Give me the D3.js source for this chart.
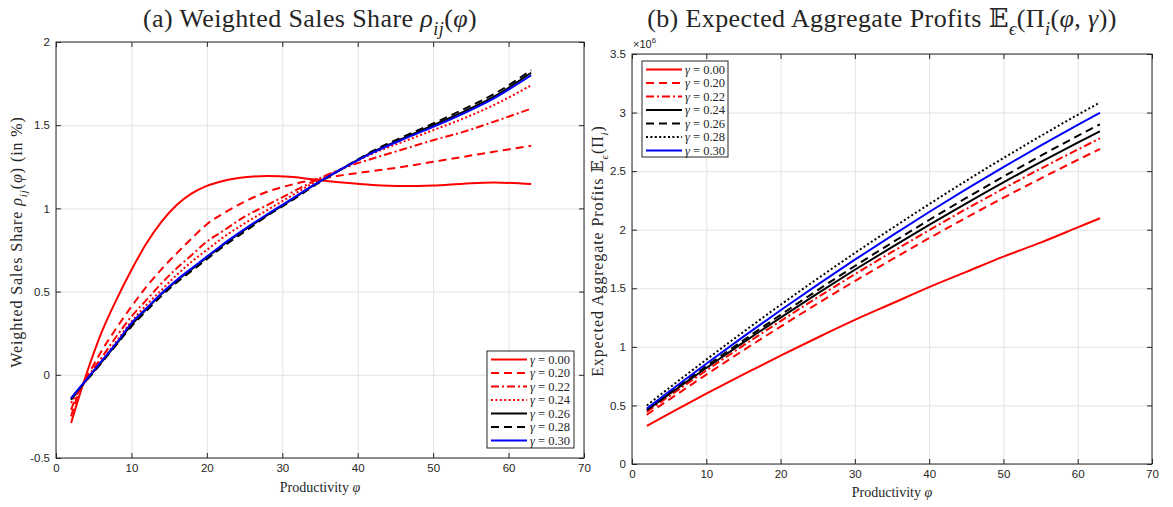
<!DOCTYPE html>
<html>
<head>
<meta charset="utf-8">
<script src="https://cdn.jsdelivr.net/npm/d3@7"></script>
<style>
  body { margin: 0; background: #fff; }
  svg text { fill: #262626; }
</style>
</head>
<body>
<div id="chart"></div>
<script>
// panel (a): weighted sales share (in %) against productivity
const phiA = [2, 3, 4, 5, 6, 8, 10, 12, 14, 16, 18, 20, 22, 25, 28, 31, 34, 38, 42, 46, 50, 54, 58, 63];
const shareG000 = [-0.29, -0.14, 0.0, 0.13, 0.25, 0.45, 0.63, 0.79, 0.92, 1.02, 1.09, 1.135, 1.163, 1.187, 1.195, 1.19, 1.175, 1.155, 1.14, 1.134, 1.137, 1.148, 1.156, 1.146];
const shareG020 = [-0.25, -0.11, -0.02, 0.06, 0.14, 0.28, 0.41, 0.53, 0.635, 0.73, 0.82, 0.905, 0.965, 1.04, 1.10, 1.14, 1.17, 1.20, 1.225, 1.25, 1.28, 1.31, 1.34, 1.376];
const shareG022 = [-0.21, -0.10, -0.03, 0.04, 0.10, 0.23, 0.35, 0.45, 0.55, 0.64, 0.72, 0.80, 0.86, 0.95, 1.02, 1.09, 1.16, 1.24, 1.30, 1.355, 1.41, 1.46, 1.52, 1.60];
const shareG024 = [-0.17, -0.09, -0.035, 0.02, 0.08, 0.20, 0.32, 0.42, 0.51, 0.60, 0.68, 0.75, 0.82, 0.91, 0.99, 1.07, 1.15, 1.24, 1.33, 1.40, 1.47, 1.54, 1.62, 1.74];
const shareG026 = [-0.145, -0.088, -0.033, 0.02, 0.075, 0.185, 0.30, 0.395, 0.485, 0.565, 0.635, 0.705, 0.775, 0.87, 0.96, 1.045, 1.135, 1.24, 1.34, 1.42, 1.50, 1.58, 1.67, 1.815];
const shareG028 = [-0.15, -0.09, -0.035, 0.015, 0.07, 0.18, 0.29, 0.385, 0.475, 0.555, 0.625, 0.695, 0.765, 0.86, 0.955, 1.04, 1.13, 1.24, 1.345, 1.43, 1.51, 1.595, 1.685, 1.83];
const shareG030 = [-0.14, -0.085, -0.03, 0.025, 0.08, 0.19, 0.31, 0.40, 0.49, 0.57, 0.64, 0.71, 0.78, 0.875, 0.965, 1.05, 1.135, 1.24, 1.335, 1.415, 1.49, 1.57, 1.66, 1.80];

// panel (b): expected aggregate profits (x 10^6)
const phiB = [2, 5, 10, 15, 20, 25, 30, 35, 40, 45, 50, 55, 60, 63];
const profitG000 = [0.325, 0.43, 0.60, 0.765, 0.925, 1.08, 1.23, 1.37, 1.51, 1.64, 1.77, 1.89, 2.02, 2.098];
const profitG020 = [0.420, 0.550, 0.763, 0.971, 1.173, 1.370, 1.562, 1.747, 1.928, 2.103, 2.273, 2.437, 2.596, 2.689];
const profitG022 = [0.445, 0.579, 0.798, 1.012, 1.220, 1.423, 1.620, 1.810, 1.996, 2.177, 2.351, 2.521, 2.684, 2.780];
const profitG024 = [0.460, 0.597, 0.820, 1.038, 1.250, 1.457, 1.658, 1.852, 2.041, 2.225, 2.404, 2.576, 2.743, 2.840];
const profitG026 = [0.465, 0.605, 0.834, 1.056, 1.273, 1.485, 1.690, 1.889, 2.083, 2.271, 2.453, 2.630, 2.801, 2.900];
const profitG028 = [0.500, 0.649, 0.891, 1.128, 1.359, 1.583, 1.801, 2.012, 2.218, 2.418, 2.612, 2.799, 2.981, 3.086];
const profitG030 = [0.474, 0.619, 0.856, 1.087, 1.312, 1.531, 1.744, 1.950, 2.151, 2.346, 2.535, 2.718, 2.895, 2.998];

const gammaLabels = ["0.00", "0.20", "0.22", "0.24", "0.26", "0.28", "0.30"];
const xTicks = [0, 10, 20, 30, 40, 50, 60, 70];
const yTicksA = [-0.5, 0, 0.5, 1, 1.5, 2];
const yTicksB = [0, 0.5, 1, 1.5, 2, 2.5, 3, 3.5];

const SERIF = "'Liberation Serif', 'DejaVu Serif', serif";
const SANS = "'Liberation Sans', Arial, sans-serif";
const DASH = { solid: null, dash: "8,5", dashdot: "8,3,2,3", dot: "2,2.4" };

const svg = d3.select("#chart")
  .append("svg")
  .attr("width", 1173)
  .attr("height", 507);

// text with italic / subscript / superscript pieces
function rich(text, parts, size) {
  let shift = 0;
  parts.forEach(p => {
    const t = text.append("tspan").text(p.t);
    let target = 0;
    if (p.sub) target = size * 0.3;
    if (p.sup) target = -size * 0.45;
    if (target !== shift) { t.attr("dy", target - shift); shift = target; }
    if (p.i) t.style("font-style", "italic");
    if (p.sub || p.sup) t.style("font-size", (size * 0.7) + "px");
  });
  return text;
}

function drawPanel(cfg) {
  const x = d3.scaleLinear().domain([0, 70]).range(cfg.xr);
  const y = d3.scaleLinear().domain(cfg.yd).range(cfg.yr);
  const g = svg.append("g");
  const w = cfg.xr[1] - cfg.xr[0];
  const h = cfg.yr[0] - cfg.yr[1];

  // grid
  g.append("g")
    .attr("transform", `translate(0,${cfg.yr[0]})`)
    .call(d3.axisBottom(x).tickValues(xTicks).tickSize(-h).tickFormat(""))
    .call(a => a.select(".domain").remove())
    .selectAll("line").attr("stroke", "#e3e3e3");
  g.append("g")
    .attr("transform", `translate(${cfg.xr[0]},0)`)
    .call(d3.axisLeft(y).tickValues(cfg.yTicks).tickSize(-w).tickFormat(""))
    .call(a => a.select(".domain").remove())
    .selectAll("line").attr("stroke", "#e3e3e3");

  // series
  const line = d3.line()
    .x(d => x(d[0]))
    .y(d => y(d[1]))
    .curve(d3.curveMonotoneX);

  cfg.series.forEach(s => {
    g.append("path")
      .datum(cfg.phi.map((p, i) => [p, s.values[i]]))
      .attr("d", line)
      .attr("fill", "none")
      .attr("stroke", s.color)
      .attr("stroke-width", 2)
      .attr("stroke-dasharray", DASH[s.dash]);
  });

  // box + ticks pointing inward
  g.append("rect")
    .attr("x", cfg.xr[0]).attr("y", cfg.yr[1])
    .attr("width", w).attr("height", h)
    .attr("fill", "none").attr("stroke", "#262626");

  const fmt = d => String(d);
  const axes = [
    [d3.axisBottom(x).tickValues(xTicks).tickFormat(fmt), `translate(0,${cfg.yr[0]})`],
    [d3.axisTop(x).tickValues(xTicks).tickFormat(""), `translate(0,${cfg.yr[1]})`],
    [d3.axisLeft(y).tickValues(cfg.yTicks).tickFormat(fmt), `translate(${cfg.xr[0]},0)`],
    [d3.axisRight(y).tickValues(cfg.yTicks).tickFormat(""), `translate(${cfg.xr[1]},0)`]
  ];
  axes.forEach(([ax, tr]) => {
    g.append("g")
      .attr("transform", tr)
      .call(ax.tickSizeInner(-5).tickSizeOuter(0).tickPadding(6))
      .call(a => a.select(".domain").remove())
      .call(a => a.selectAll("line").attr("stroke", "#262626"))
      .call(a => a.selectAll("text")
        .attr("fill", "#262626")
        .style("font-family", SANS)
        .style("font-size", "11.5px"));
  });

  // title and labels
  rich(g.append("text")
    .attr("x", (cfg.xr[0] + cfg.xr[1]) / 2 - 10)
    .attr("y", 27)
    .attr("text-anchor", "middle")
    .style("font-family", SERIF)
    .style("font-size", "26px")
    .style("letter-spacing", "0.4px")
    .attr("fill", "#000"), cfg.title, 26);

  rich(g.append("text")
    .attr("x", (cfg.xr[0] + cfg.xr[1]) / 2)
    .attr("y", cfg.xLabelY)
    .attr("text-anchor", "middle")
    .style("font-family", SERIF)
    .style("font-size", "14px"),
    [{ t: "Productivity " }, { t: "φ", i: true }], 14);

  rich(g.append("text")
    .attr("transform", `translate(${cfg.yLabelX},${(cfg.yr[0] + cfg.yr[1]) / 2 - 8}) rotate(-90)`)
    .attr("text-anchor", "middle")
    .style("font-family", SERIF)
    .style("font-size", "16px")
    .style("letter-spacing", "0.9px"), cfg.yLabel, 16);

  // legend
  const lg = g.append("g");
  const L = cfg.legend;
  lg.append("rect")
    .attr("x", L.x).attr("y", L.y)
    .attr("width", L.w).attr("height", L.h)
    .attr("fill", "#fff").attr("stroke", "#262626");
  cfg.series.forEach((s, i) => {
    const ry = L.y + 8.5 + i * 13.5;
    lg.append("line")
      .attr("x1", L.x + 4).attr("x2", L.x + 40)
      .attr("y1", ry).attr("y2", ry)
      .attr("stroke", s.color)
      .attr("stroke-width", 2)
      .attr("stroke-dasharray", DASH[s.dash]);
    rich(lg.append("text")
      .attr("x", L.x + 43)
      .attr("y", ry + 4)
      .style("font-family", SERIF)
      .style("font-size", "12.5px"),
      [{ t: "γ", i: true }, { t: " = " + gammaLabels[i] }], 12.5);
  });
  return g;
}

drawPanel({
  xr: [56, 584], yr: [458, 42], yd: [-0.5, 2], yTicks: yTicksA,
  phi: phiA,
  series: [
    { values: shareG000, color: "#ff0000", dash: "solid" },
    { values: shareG020, color: "#ff0000", dash: "dash" },
    { values: shareG022, color: "#ff0000", dash: "dashdot" },
    { values: shareG024, color: "#ff0000", dash: "dot" },
    { values: shareG026, color: "#000000", dash: "solid" },
    { values: shareG028, color: "#000000", dash: "dash" },
    { values: shareG030, color: "#0000ff", dash: "solid" }
  ],
  title: [{ t: "(a) Weighted Sales Share " }, { t: "ρ", i: true }, { t: "ij", i: true, sub: true }, { t: "(" }, { t: "φ", i: true }, { t: ")" }],
  yLabel: [{ t: "Weighted Sales Share " }, { t: "ρ", i: true }, { t: "ij", i: true, sub: true }, { t: "(" }, { t: "φ", i: true }, { t: ") (in %)" }],
  xLabelY: 492, yLabelX: 22,
  legend: { x: 487, y: 351, w: 87, h: 97 }
});

const right = drawPanel({
  xr: [632, 1152], yr: [464, 54], yd: [0, 3.5], yTicks: yTicksB,
  phi: phiB,
  series: [
    { values: profitG000, color: "#ff0000", dash: "solid" },
    { values: profitG020, color: "#ff0000", dash: "dash" },
    { values: profitG022, color: "#ff0000", dash: "dashdot" },
    { values: profitG024, color: "#000000", dash: "solid" },
    { values: profitG026, color: "#000000", dash: "dash" },
    { values: profitG028, color: "#000000", dash: "dot" },
    { values: profitG030, color: "#0000ff", dash: "solid" }
  ],
  title: [{ t: "(b) Expected Aggregate Profits " }, { t: "𝔼" }, { t: "ϵ", i: true, sub: true }, { t: "(Π" }, { t: "i", i: true, sub: true }, { t: "(" }, { t: "φ", i: true }, { t: ", " }, { t: "γ", i: true }, { t: "))" }],
  yLabel: [{ t: "Expected Aggregate Profits " }, { t: "𝔼" }, { t: "ϵ", i: true, sub: true }, { t: "(Π" }, { t: "i", i: true, sub: true }, { t: ")" }],
  xLabelY: 497, yLabelX: 603,
  legend: { x: 642, y: 61, w: 86, h: 96 }
});

// exponent label
rich(right.append("text")
  .attr("x", 633)
  .attr("y", 48)
  .style("font-family", SANS)
  .style("font-size", "11px"),
  [{ t: "×10" }, { t: "6", sup: true }], 11);
</script>
</body>
</html>
